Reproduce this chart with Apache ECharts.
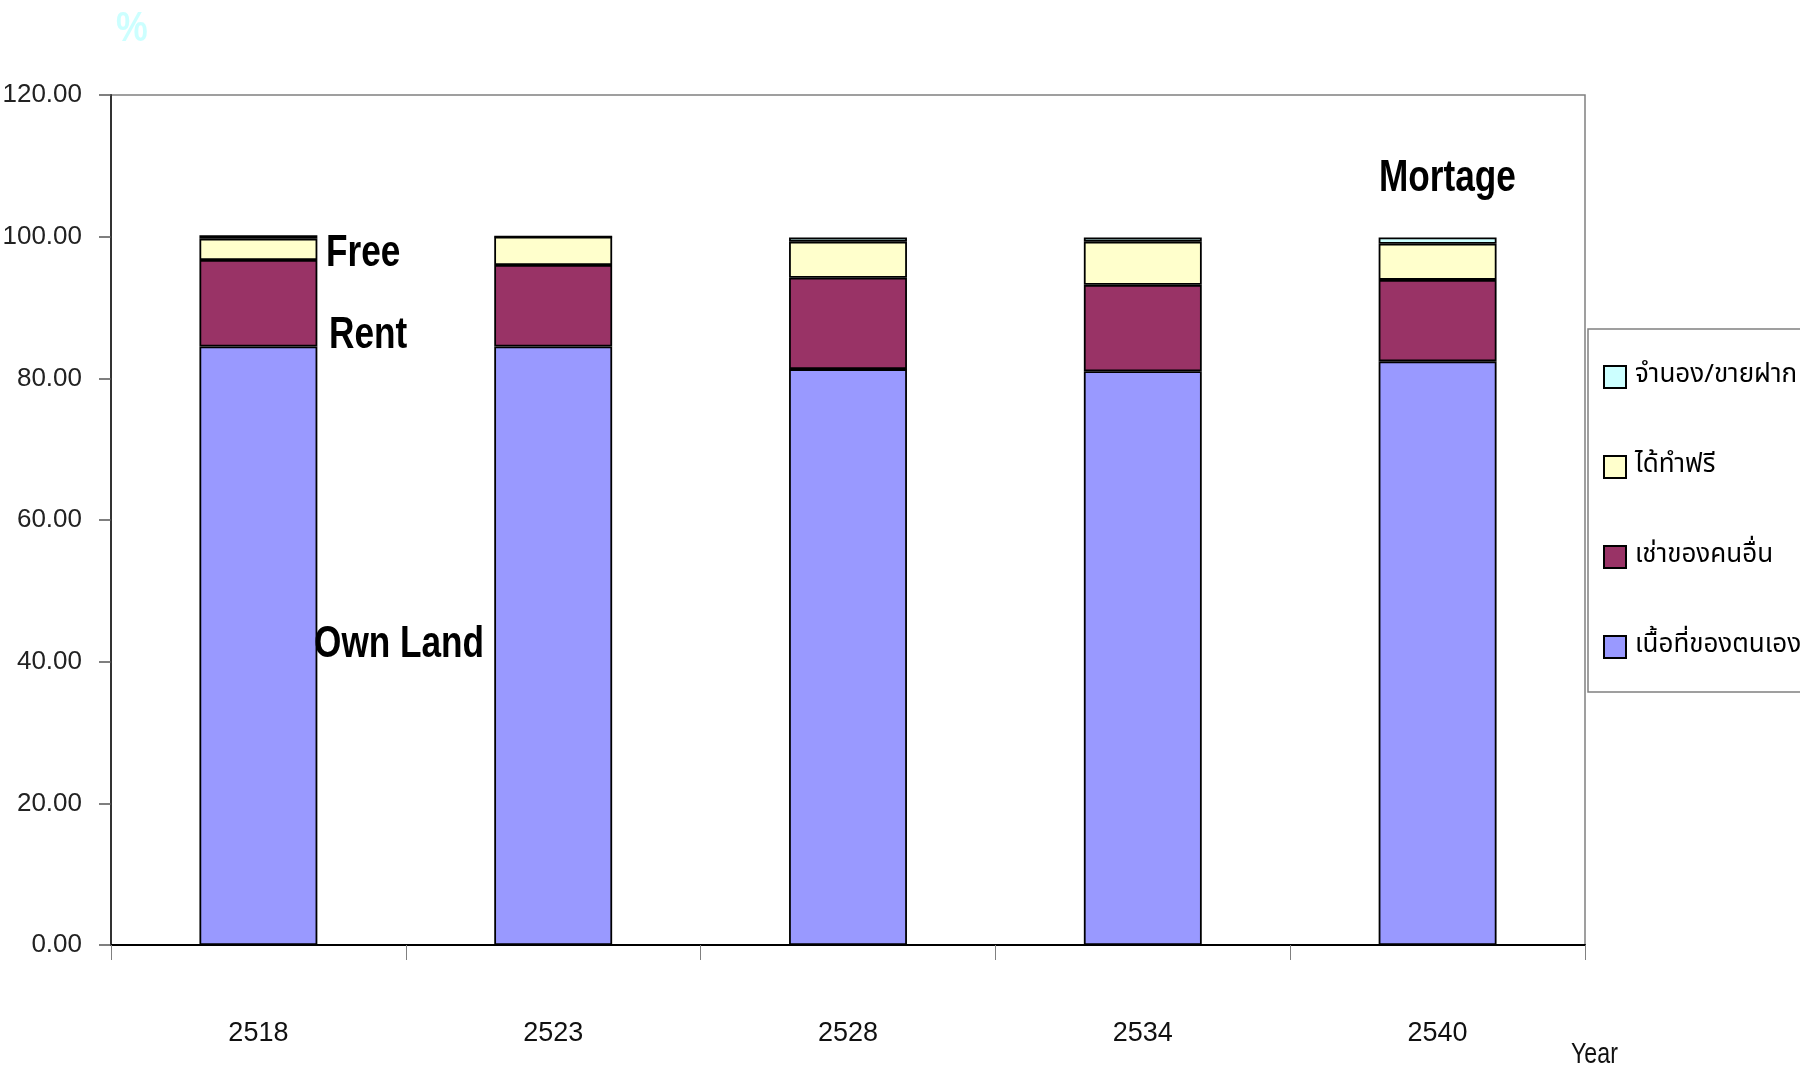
<!DOCTYPE html>
<html>
<head>
<meta charset="utf-8">
<script src="https://cdn.jsdelivr.net/npm/echarts@6/dist/echarts.min.js"></script>
<style>
html,body{margin:0;padding:0;background:#fff;}
#chart{width:1800px;height:1066px;}
</style>
</head>
<body>
<div id="chart"></div>
<script>
const years = ['2518', '2523', '2528', '2534', '2540'];
const ownLand = [84.5, 84.5, 81.3, 81.0, 82.4];
const rent = [12.2, 11.5, 12.9, 12.2, 11.5];
const free = [3.0, 4.0, 5.1, 6.1, 5.1];
const mortgage = [0.5, 0.0, 0.6, 0.6, 0.9];
const seriesNames = ['เนื้อที่ของตนเอง', 'เช่าของคนอื่น', 'ได้ทำฟรี', 'จำนอง/ขายฝาก'];
const seriesColors = ['#9999ff', '#993366', '#ffffcc', '#ccffff'];
const yTicks = { min: 0, max: 120, interval: 20 };

const sans = "'Liberation Sans', Arial, sans-serif";
const thai = "'Noto Sans Thai', 'Noto Sans Thai Looped', 'Loma', 'Garuda', 'Noto Sans', sans-serif";

const chart = echarts.init(document.getElementById('chart'), null, { renderer: 'canvas' });
const dataSets = [ownLand, rent, free, mortgage];

const series = dataSets.map((d, i) => ({
  name: seriesNames[i],
  type: 'bar',
  stack: 'total',
  barWidth: '40%',
  data: d,
  itemStyle: { color: seriesColors[i], borderColor: '#000', borderWidth: 1.8 },
  emphasis: { disabled: true }
}));

function label(text, x, y, size) {
  return { type: 'text', x: x, y: y, scaleX: 0.8, style: { text: text, fontFamily: sans, fontSize: size, fontWeight: 'bold', fill: '#000' }, z: 10 };
}

chart.setOption({
  backgroundColor: '#fff',
  animation: false,
  grid: { left: 111, right: 215, top: 95, bottom: 121, show: true, borderColor: '#808080', borderWidth: 1.5, backgroundColor: 'transparent', containLabel: false, outerBoundsMode: 'none' },
  legend: {
    orient: 'vertical',
    left: 1598,
    top: 357,
    itemWidth: 22,
    itemHeight: 22,
    itemGap: 60,
    data: [seriesNames[3], seriesNames[2], seriesNames[1], seriesNames[0]],
    icon: 'rect',
    itemStyle: { borderColor: '#000', borderWidth: 2 },
    textStyle: { fontFamily: thai, fontSize: 26, color: '#000', lineHeight: 30, padding: [0, 0, 0, 4] },
    selectedMode: false
  },
  xAxis: {
    type: 'category',
    data: years,
    axisLine: { lineStyle: { color: '#000', width: 2 } },
    axisTick: { show: true, length: 15, lineStyle: { color: '#808080', width: 1 } },
    axisLabel: { margin: 75, fontFamily: sans, fontSize: 27, color: '#111' }
  },
  yAxis: {
    type: 'value',
    min: yTicks.min, max: yTicks.max, interval: yTicks.interval,
    splitLine: { show: false },
    axisLine: { show: true, lineStyle: { color: '#333', width: 2 } },
    axisTick: { show: true, length: 12, lineStyle: { color: '#555', width: 1.5 } },
    axisLabel: { margin: 29, fontFamily: sans, fontSize: 26, color: '#222', formatter: v => v.toFixed(2) }
  },
  graphic: [
    { type: 'rect', shape: { x: 1588, y: 329, width: 230, height: 363 }, style: { fill: 'transparent', stroke: '#808080', lineWidth: 1.5 }, z: 1 },
    { type: 'text', x: 116, y: 8, scaleX: 0.85, style: { text: '%', fontFamily: sans, fontSize: 42, fontWeight: 'bold', fill: '#ccffff' } },
    label('Free', 326, 232, 44),
    label('Rent', 329, 314, 44),
    label('Own Land', 314, 623, 44),
    label('Mortage', 1379, 157, 44),
    { type: 'text', x: 1571, y: 1040, scaleX: 0.8, style: { text: 'Year', fontFamily: sans, fontSize: 29, fill: '#111' } }
  ],
  series: series
});
</script>
</body>
</html>
